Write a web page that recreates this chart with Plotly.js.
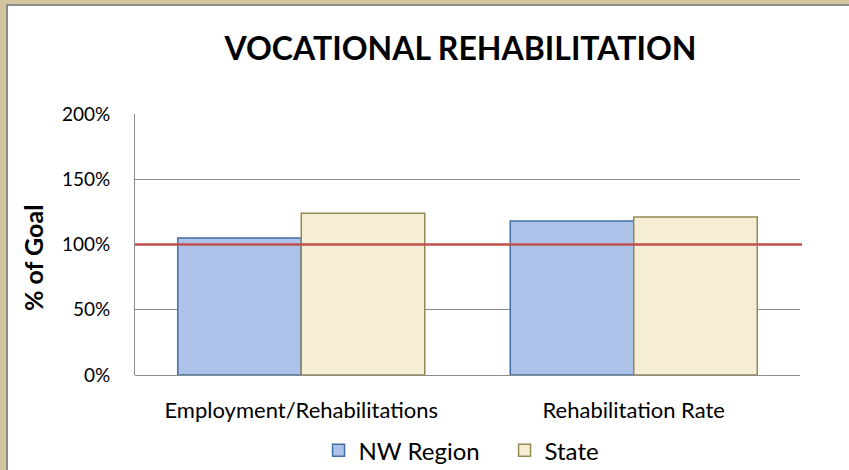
<!DOCTYPE html>
<html>
<head>
<meta charset="utf-8">
<script src="https://cdn.plot.ly/plotly-3.0.1.min.js"></script>
<style>
  html, body { margin: 0; padding: 0; background: #ffffff; }
  #frame { width: 849px; height: 470px; box-sizing: border-box; background: #D2C59E; padding-top: 4px; padding-left: 6px; }
  #inner { width: 843px; height: 466px; box-sizing: border-box; border-top: 2px solid #8C8C8C; border-left: 2px solid #8C8C8C; background: #ffffff; }
  #chart { width: 841px; height: 464px; }
</style>
</head>
<body>
<div id="frame"><div id="inner"><div id="chart"></div></div></div>
<script>
const categories = ["Employment/Rehabilitations", "Rehabilitation Rate"];
const nwRegion = [105, 118];
const state = [124, 121];
const goal = 100;
const yTicks = [0, 50, 100, 150, 200];
const yTickLabels = ["0%", "50%", "100%", "150%", "200%"];

const FONT = "Lato, 'Open Sans', 'DejaVu Sans', sans-serif";

const traces = [
  {
    type: "bar", name: "NW Region", x: categories, y: nwRegion,
    marker: { color: "#ADC2E8", line: { color: "#416DA8", width: 1.5 } },
    hoverinfo: "skip"
  },
  {
    type: "bar", name: "State", x: categories, y: state,
    marker: { color: "#F6EDD5", line: { color: "#948A54", width: 1.5 } },
    hoverinfo: "skip"
  }
];

const layout = {
  width: 841, height: 464,
  margin: { l: 127, r: 49, t: 108, b: 95, autoexpand: false },
  paper_bgcolor: "#ffffff", plot_bgcolor: "#ffffff",
  font: { family: FONT, color: "#000000", size: 19 },
  title: {
    text: "<b>VOCATIONAL REHABILITATION</b>",
    font: { family: FONT, size: 32, color: "#000000" },
    x: 0.4895, xref: "paper", xanchor: "center",
    y: 1 - 43 / 464, yref: "container", yanchor: "middle"
  },
  barmode: "group", bargap: 0.257, bargroupgap: 0,
  showlegend: true,
  legend: {
    orientation: "h", x: 0.276, xanchor: "left", y: -0.29, yanchor: "middle",
    font: { family: FONT, size: 24 }, traceorder: "normal", itemwidth: 30,
    entrywidth: 141, entrywidthmode: "pixels"
  },
  xaxis: {
    type: "category", showgrid: false, zeroline: false,
    showline: false, ticks: "", ticklabelstandoff: 20,
    tickfont: { family: FONT, size: 22 }
  },
  yaxis: {
    range: [0, 200], tickvals: yTicks, ticktext: yTickLabels,
    showgrid: true, gridcolor: "#8C8C8C", gridwidth: 1,
    zeroline: true, zerolinecolor: "#8C8C8C", zerolinewidth: 1,
    showline: true, linecolor: "#8C8C8C", linewidth: 1,
    ticks: "", ticklabelstandoff: 20,
    tickfont: { family: FONT, size: 19 }
  },
  annotations: [
    {
      text: "<b>% of Goal</b>", textangle: -90, showarrow: false,
      xref: "paper", yref: "paper", x: -0.1534, y: 0.448,
      xanchor: "center", yanchor: "middle",
      font: { family: FONT, size: 25, color: "#000000" }
    }
  ],
  shapes: [
    {
      type: "line", xref: "paper", x0: 0, x1: 1.003, yref: "y", y0: goal, y1: goal,
      line: { color: "#C0504D", width: 2.5 }, layer: "above"
    }
  ]
};

Plotly.newPlot("chart", traces, layout, { displayModeBar: false, staticPlot: true });
</script>
</body>
</html>
